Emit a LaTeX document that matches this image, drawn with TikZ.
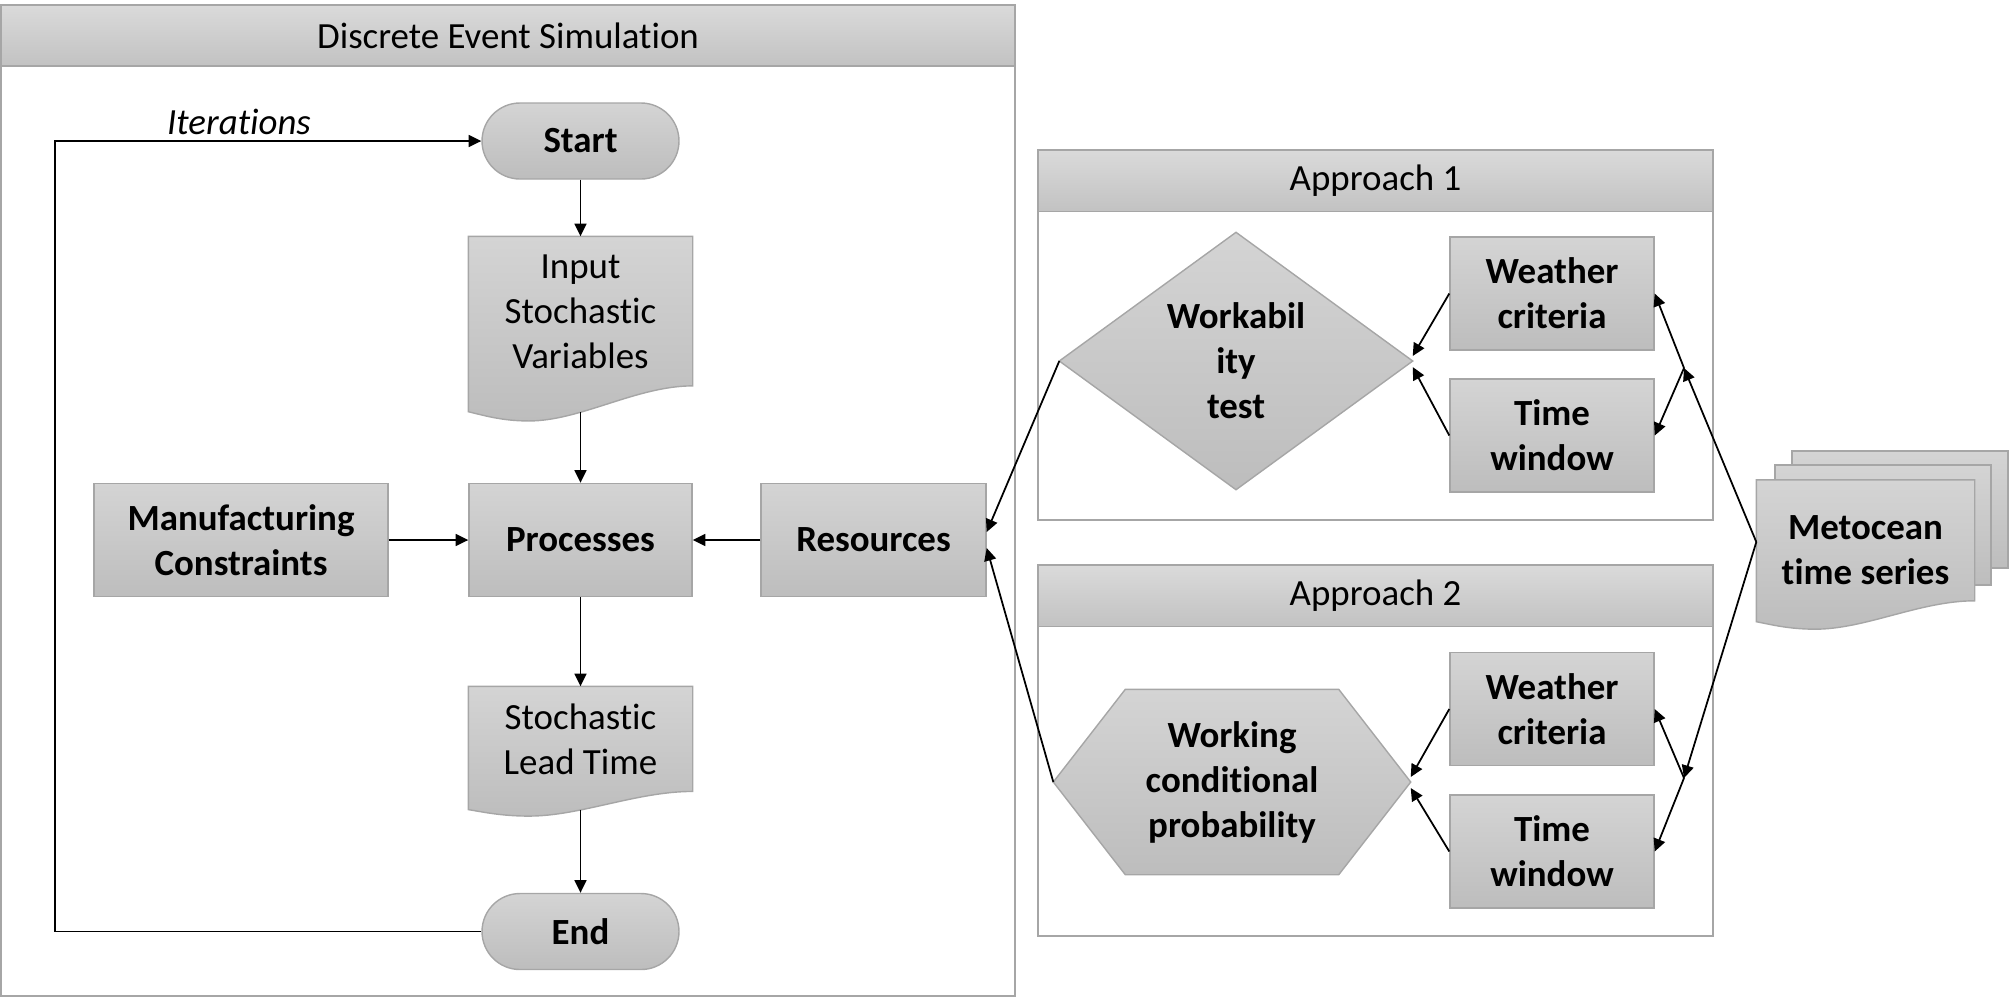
\documentclass[tikz,border=0pt]{standalone}
\usepackage{fontspec}
\setmainfont{Carlito}[Ligatures=NoCommon]
\usetikzlibrary{arrows.meta,shapes.misc,calc,backgrounds}

\definecolor{boxline}{HTML}{A6A6A6}
\definecolor{boxtop}{HTML}{D4D4D4}
\definecolor{boxbot}{HTML}{BDBDBD}
\definecolor{bartop}{HTML}{DADADA}
\definecolor{barbot}{HTML}{C2C2C2}

% flowchart document shape drawn behind a node
% #1: node height as part of the whole shape height
\newcommand{\docshape}[2][0.82]{%
  \path[boxfill] let \p1=(#2.north west), \p2=(#2.south east) in
    (\x1,\y1) -- (\x2,\y1) -- (\x2,{\y1-0.81/#1*(\y1-\y2)})
    .. controls ({\x1+0.75*(\x2-\x1)},{\y1-0.81/#1*(\y1-\y2)})
            and ({\x1+0.5*(\x2-\x1)},{\y1-1/#1*(\y1-\y2)})
    .. ({\x1+0.27*(\x2-\x1)},{\y1-1/#1*(\y1-\y2)})
    .. controls ({\x1+0.15*(\x2-\x1)},{\y1-1/#1*(\y1-\y2)})
            and ({\x1+0.07*(\x2-\x1)},{\y1-0.97/#1*(\y1-\y2)})
    .. (\x1,{\y1-0.95/#1*(\y1-\y2)}) -- cycle;
  \coordinate (#2-b) at ($(#2.north)!0.953/#1!(#2.south)$);
}

\tikzset{
  every node/.style={font=\fontsize{10.5}{12.8}\selectfont},
  boldtext/.style={font=\fontsize{10.5}{12.8}\selectfont\bfseries},
  boxfill/.style={draw=boxline, top color=boxtop, bottom color=boxbot},
  box/.style={boxfill, boldtext, align=center, inner sep=1pt,
    minimum width=2.04cm, minimum height=1.13cm},
  term/.style={rounded rectangle, boxfill, boldtext, inner sep=1pt,
    minimum width=2.04cm, minimum height=0.76cm},
  doc/.style={align=center, inner sep=0pt, minimum width=2.23cm},
  titlebar/.style={draw=boxline, top color=bartop, bottom color=barbot,
    inner sep=0pt, minimum height=0.61cm},
  frame/.style={draw=boxline},
  arr/.style={-{Triangle[length=3.6pt,width=3.4pt]}, line width=0.5pt},
}

\begin{document}
\begin{tikzpicture}
  \useasboundingbox (0,0) rectangle (20.10,-9.98);

  % Discrete Event Simulation
  \draw[frame] (0.01,-0.05) rectangle (10.15,-9.96);
  \node[titlebar, minimum width=10.14cm] (des) at (5.08,-0.355) {Discrete Event Simulation};

  \node[term] (start) at (5.805,-1.41) {Start};
  \node[doc, minimum height=1.50cm] (input) at (5.805,-3.12) {Input\\Stochastic\\Variables};
  \node[box, minimum width=2.23cm] (proc) at (5.805,-5.40) {Processes};
  \node[box, minimum width=2.94cm] (manu) at (2.41,-5.40) {Manufacturing\\Constraints};
  \node[box, minimum width=2.25cm] (res) at (8.735,-5.40) {Resources};
  \node[doc, minimum height=1.05cm] (lead) at (5.805,-7.395) {Stochastic\\Lead Time};
  \node[term] (end) at (5.805,-9.315) {End};
  \node[font=\fontsize{10.5}{12.8}\selectfont\itshape] (iter) at (2.39,-1.22) {Iterations};
  \coordinate (loop) at (0.55,0);

  % Approach 1
  \draw[frame] (10.38,-1.50) rectangle (17.13,-5.20);
  \node[titlebar, minimum width=6.75cm] (app1) at (13.755,-1.81) {Approach 1};
  \node[boldtext, align=center, minimum width=3.52cm, minimum height=2.56cm] (wt) at (12.36,-3.61) {Workabil\\ity\\test};
  \node[box] (wc1) at (15.52,-2.935) {Weather\\criteria};
  \node[box] (tw1) at (15.52,-4.355) {Time\\window};

  % Approach 2
  \draw[frame] (10.38,-5.65) rectangle (17.13,-9.36);
  \node[titlebar, minimum width=6.75cm] (app2) at (13.755,-5.96) {Approach 2};
  \node[boldtext, align=center, minimum width=3.56cm, minimum height=1.84cm] (wcp) at (12.32,-7.82) {Working\\conditional\\probability};
  \node[box] (wc2) at (15.52,-7.09) {Weather\\criteria};
  \node[box] (tw2) at (15.52,-8.515) {Time\\window};

  % Metocean data
  \node[doc, boldtext, minimum width=2.17cm, minimum height=1.39cm] (met) at (18.655,-5.50) {Metocean\\time series};
  \coordinate (j1) at (16.84,-3.68);
  \coordinate (j2) at (16.84,-7.78);

  \begin{scope}[on background layer]
    \path[boxfill] (wt.north) -- (wt.east) -- (wt.south) -- (wt.west) -- cycle;
    \path[boxfill] ($(wcp.north west)+(0.72,0)$) -- ($(wcp.north east)+(-0.72,0)$) -- (wcp.east)
      -- ($(wcp.south east)+(-0.72,0)$) -- ($(wcp.south west)+(0.72,0)$) -- (wcp.west) -- cycle;
    \path[boxfill] (17.92,-4.51) rectangle (20.08,-5.68);
    \path[boxfill] (17.75,-4.65) rectangle (19.91,-5.85);
    \docshape{input}
    \docshape{lead}
    \docshape[0.94]{met}
  \end{scope}

  % connectors
  \draw[arr] (start.south) -- (input.north);
  \draw[arr] (input-b) -- (proc.north);
  \draw[arr] (manu) -- (proc);
  \draw[arr] (res) -- (proc);
  \draw[arr] (proc.south) -- (lead.north);
  \draw[arr] (lead-b) -- (end.north);
  \draw[arr] (end.west) -- (end.west -| loop) |- (start.west);

  \draw[arr] (wt.west) -- ([yshift=0.08cm]res.east);
  \draw[arr] (wcp.west) -- ([yshift=-0.08cm]res.east);
  \draw[arr] (wc1.west) -- ([yshift=0.05cm]wt.east);
  \draw[arr] (tw1.west) -- ([yshift=-0.06cm]wt.east);
  \draw[arr] (wc2.west) -- ([yshift=0.05cm]wcp.east);
  \draw[arr] (tw2.west) -- ([yshift=-0.06cm]wcp.east);

  \draw[arr] ([yshift=0.08cm]met.west) -- (j1);
  \draw[arr] (j1) -- (wc1.east);
  \draw[arr] (j1) -- (tw1.east);
  \draw[arr] ([yshift=0.08cm]met.west) -- (j2);
  \draw[arr] (j2) -- (wc2.east);
  \draw[arr] (j2) -- (tw2.east);
\end{tikzpicture}
\end{document}
